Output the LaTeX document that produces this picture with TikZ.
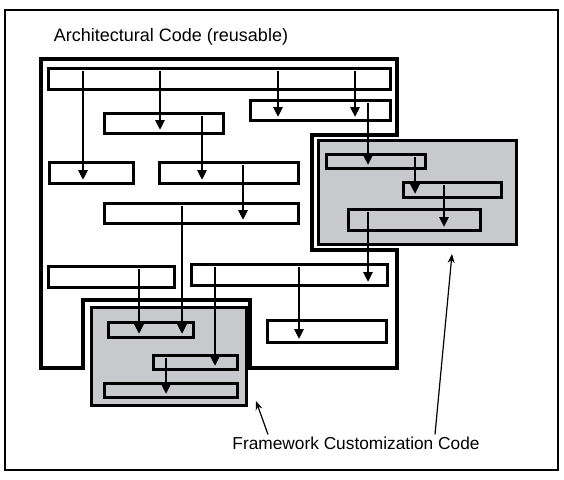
\documentclass[tikz,border=0pt]{standalone}
\usepackage{fontspec}
\setmainfont{Liberation Sans}
\usetikzlibrary{arrows.meta,fit}
\definecolor{custgray}{RGB}{200,201,204}

\tikzset{
  blk/.style={draw,line width=3pt,inner sep=0pt,outer sep=0pt},
  flow/.style={line width=2.6pt,-{Triangle[length=10pt,width=9pt]},shorten <=3pt,shorten >=3pt},
  pointer/.style={line width=1.2pt,-{Stealth[length=9pt,width=7pt]}},
}

\begin{document}
\begin{tikzpicture}[x=1pt,y=-1pt,line join=miter]
\useasboundingbox (0,0) rectangle (564,479);
\draw[line width=2.8pt] (5,10) rectangle (558,470);

\node (title) at (171,37) {\fontsize{18}{20}\selectfont Architectural Code (reusable)};

% reusable part
\draw[line width=3.3pt] (41,59) -| (397,135) -| (312,250) -| (397,368) -| (250,300) -| (83,368) -| (41,59) -- cycle;

% customization parts
\node[blk,fill=custgray,fit={(318,140) (516,244)}] (cust1) {};
\node[blk,fill=custgray,fit={(91,307) (246,405)}] (cust2) {};

\node[blk,fit={(48,68) (390,89)}] (a1) {};
\node[blk,fit={(104,113) (223,133)}] (a2) {};
\node[blk,fit={(250,100) (390,120)}] (a3) {};
\node[blk,fit={(49,162) (133,183)}] (a4) {};
\node[blk,fit={(159,162) (298,183)}] (a5) {};
\node[blk,fit={(104,203) (298,223)}] (a6) {};
\node[blk,fit={(48,266) (174,287)}] (a7) {};
\node[blk,fit={(191,264) (387,285)}] (a8) {};
\node[blk,fit={(267,320) (386,342)}] (a9) {};

\node[blk,fit={(326,154) (425,168)}] (f1) {};
\node[blk,fit={(403,182) (501,197)}] (f2) {};
\node[blk,fit={(348,209) (480,230)}] (f3) {};

\node[blk,fit={(108,322) (193,337)}] (g1) {};
\node[blk,fit={(153,355) (237,369)}] (g2) {};
\node[blk,fit={(104,383) (237,397)}] (g3) {};

% calls
\draw[flow] (a1.north -| 83,0) -- (a4.south -| 83,0);
\draw[flow] (a1.north -| 160,0) -- (a2.south -| 160,0);
\draw[flow] (a1.north -| 278,0) -- (a3.south -| 278,0);
\draw[flow] (a1.north -| 355,0) -- (a3.south -| 355,0);
\draw[flow] (a2.north -| 202,0) -- (a5.south -| 202,0);
\draw[flow] (a5.north -| 243,0) -- (a6.south -| 243,0);
\draw[flow] (a6.north -| 182,0) -- (g1.south -| 182,0);
\draw[flow] (a3.north -| 368,0) -- (f1.south -| 368,0);
\draw[flow] (f1.north -| 415,0) -- (f2.south -| 415,0);
\draw[flow] (f2.north -| 444,0) -- (f3.south -| 444,0);
\draw[flow] (f3.north -| 368,0) -- (a8.south -| 368,0);
\draw[flow] (a7.north -| 139,0) -- (g1.south -| 139,0);
\draw[flow] (a8.north -| 215,0) -- (g2.south -| 215,0);
\draw[flow] (a8.north -| 299,0) -- (a9.south -| 299,0);
\draw[flow] (g2.north -| 166,0) -- (g3.south -| 166,0);

% label
\node[inner sep=2pt] (cap) at (356,443) {\fontsize{17.3}{19}\selectfont Framework Customization Code};
\coordinate (tip1) at (256,401);
\coordinate (tip2) at (452,254);
\draw[pointer] (cap.north -| 268,0) -- (tip1);
\draw[pointer] (cap.north -| 435,0) -- (tip2);

\end{tikzpicture}
\end{document}
